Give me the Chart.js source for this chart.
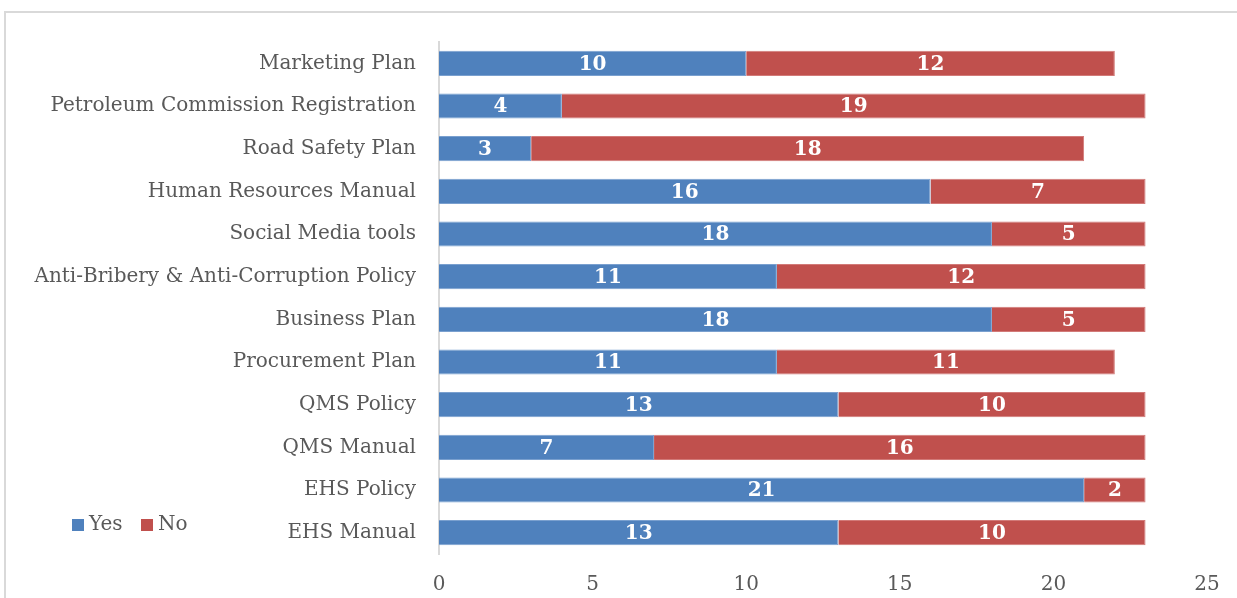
<!DOCTYPE html>
<html>
<head>
    <title>Document Availability</title>
    <script src="https://cdn.jsdelivr.net/npm/chart.js"></script>
    <style>
        body { margin: 0; background: #fff; overflow: hidden; }
    </style>
</head>
<body>
    <canvas id="docChart" width="1237" height="598"></canvas>

    <script>
        // chart values
        const categories = ['Marketing Plan', 'Petroleum Commission Registration', 'Road Safety Plan',
            'Human Resources Manual', 'Social Media tools', 'Anti-Bribery & Anti-Corruption Policy',
            'Business Plan', 'Procurement Plan', 'QMS Policy', 'QMS Manual', 'EHS Policy', 'EHS Manual'];
        const yesValues = [10, 4, 3, 16, 18, 11, 18, 11, 13, 7, 21, 13];
        const noValues = [12, 19, 18, 7, 5, 12, 5, 11, 10, 16, 2, 10];
        const seriesNames = ['Yes', 'No'];
        const xTicks = [0, 5, 10, 15, 20, 25];

        const FONT = '"DejaVu Serif", serif';
        const BLUE = '#4f81bd';
        const RED = '#c0504d';

        // outer frame of the chart (only top and left edges show)
        const framePlugin = {
            id: 'frame',
            beforeDraw(chart) {
                const ctx = chart.ctx;
                ctx.save();
                ctx.strokeStyle = '#d9d9d9';
                ctx.lineWidth = 2;
                ctx.beginPath();
                ctx.moveTo(5, 598);
                ctx.lineTo(5, 12);
                ctx.lineTo(1237, 12);
                ctx.stroke();
                ctx.restore();
            }
        };

        // white numbers inside each bar segment
        const labelPlugin = {
            id: 'barLabels',
            afterDatasetsDraw(chart) {
                const ctx = chart.ctx;
                ctx.save();
                ctx.fillStyle = '#ffffff';
                ctx.font = 'bold 20px ' + FONT;
                ctx.textAlign = 'center';
                ctx.textBaseline = 'middle';
                chart.data.datasets.forEach((ds, i) => {
                    chart.getDatasetMeta(i).data.forEach((bar, j) => {
                        const cx = (bar.x + bar.base) / 2;
                        ctx.fillText(String(ds.data[j]), cx, bar.y + 1);
                    });
                });
                ctx.restore();
            }
        };

        // legend sitting at the lower left
        const legendPlugin = {
            id: 'cornerLegend',
            afterDraw(chart) {
                const ctx = chart.ctx;
                ctx.save();
                ctx.font = '20px ' + FONT;
                ctx.textBaseline = 'middle';
                ctx.fillStyle = BLUE;
                ctx.fillRect(72, 519, 12, 12);
                ctx.fillStyle = '#595959';
                ctx.fillText(seriesNames[0], 89, 525);
                ctx.fillStyle = RED;
                ctx.fillRect(141, 519, 12, 12);
                ctx.fillStyle = '#595959';
                ctx.fillText(seriesNames[1], 158, 525);
                ctx.restore();
            }
        };

        const ctx = document.getElementById('docChart').getContext('2d');
        new Chart(ctx, {
            type: 'bar',
            data: {
                labels: categories,
                datasets: [{
                    label: seriesNames[0],
                    data: yesValues,
                    backgroundColor: BLUE,
                    borderColor: '#7aa0cf',
                    borderWidth: 1,
                    barPercentage: 0.59,
                    categoryPercentage: 1
                }, {
                    label: seriesNames[1],
                    data: noValues,
                    backgroundColor: RED,
                    borderColor: '#d27a78',
                    borderWidth: 1,
                    barPercentage: 0.59,
                    categoryPercentage: 1
                }]
            },
            options: {
                indexAxis: 'y',
                responsive: false,
                animation: false,
                layout: { padding: { top: 42, right: 30, left: 0, bottom: 0 } },
                plugins: { legend: { display: false }, tooltip: { enabled: false } },
                scales: {
                    x: {
                        stacked: true,
                        min: 0,
                        max: 25,
                        afterBuildTicks: (scale) => { scale.ticks = xTicks.map(v => ({ value: v })); },
                        afterFit: (scale) => { scale.height = 44; },
                        grid: { display: false },
                        border: { display: false },
                        ticks: { color: '#595959', font: { family: FONT, size: 20 }, padding: 11 }
                    },
                    y: {
                        stacked: true,
                        afterFit: (scale) => { scale.width = 439; },
                        grid: { display: false },
                        border: { display: true, color: '#d9d9d9', width: 2 },
                        ticks: { color: '#595959', font: { family: FONT, size: 20 }, padding: 15 }
                    }
                }
            },
            plugins: [framePlugin, labelPlugin, legendPlugin]
        });
    </script>
</body>
</html>
